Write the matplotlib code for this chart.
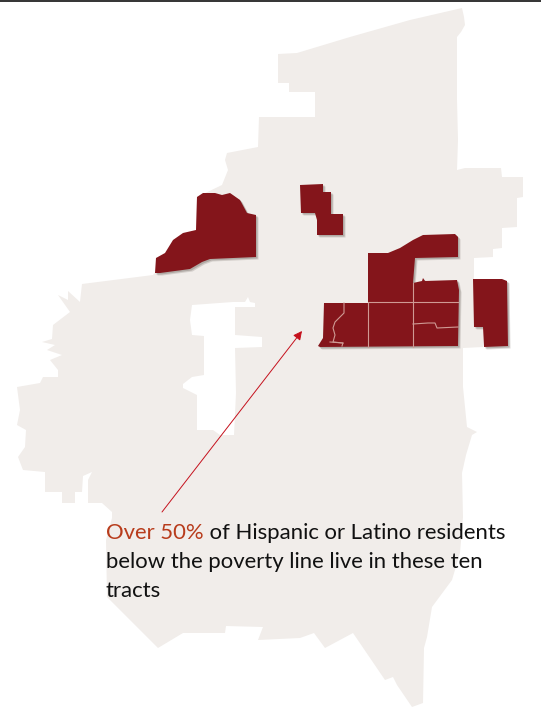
import numpy as np
import matplotlib
matplotlib.use('Agg')
import matplotlib.pyplot as plt
from matplotlib.patches import Polygon

county = [(278,54),(297,53),(350,37),(410,20),(462,8),(464,17),(465,25),(461,32),(457,37),(457,100),(458,140),(457,170),
          (465,168),(501,168),(502,177),(523,177),(523,197),(517,198),(517,227),(502,228),(502,248),(493,249),(493,257),
          (474,258),(474,278),(474,327),(483,328),(483,347),(463,348),(463,387),(467,427),(477,432),(472,435),(466,455),
          (462,473),(463,517),(460,553),(452,580),(432,607),(427,637),(424,648),(423,703),(412,707),(397,685),
          (393,677),(385,680),(353,633),(325,648),(314,633),(300,638),(258,640),(263,627),(226,626),(225,633),(183,633),
          (158,648),(137,627),(107,597),(106,540),(112,518),(112,512),(102,503),(88,503),(88,480),(92,472),(83,476),
          (82,492),(75,492),(75,503),(62,503),(62,492),(45,492),(45,472),(23,470),(18,457),(25,447),(26,430),(17,425),
          (20,410),(17,387),(40,383),(43,377),(58,377),(58,370),(50,360),(62,355),(47,350),(55,345),(42,342),(52,339),
          (53,325),(70,312),(58,295),(68,300),(68,291),(80,302),(82,284),(153,275),(196,230),(197,197),(222,185),
          (228,170),(225,160),(227,153),(258,147),(259,117),(315,117),(315,92),(289,92),(289,83),(278,83)]
hole = [(192,305),(233,302),(245,302),(248,297),(250,302),(255,303),(255,307),(235,307),(235,335),(262,337),(262,347),
        (235,348),(236,393),(234,435),(220,435),(213,430),(197,430),(197,395),(183,388),(183,384),(192,377),(204,375),
        (204,336),(192,335),(190,320)]

tract_nw = [(155,273),(156,258),(165,253),(173,240),(183,233),(196,230),(197,197),(203,193),(215,193),(222,195),(230,193),
            (240,200),(247,213),(256,215),(256,257),(210,259),(202,262),(190,269),(160,273)]
tract_n = [(300,185),(323,184),(323,192),(331,192),(331,214),(343,214),(343,235),(317,235),(317,220),(315,213),(301,213)]
tract_main = [(368,253),(388,253),(400,248),(413,240),(423,235),(455,234),(458,237),(458,257),(415,258),(413,283),(422,281),
              (423,278),(425,281),(457,280),(459,290),(458,346),(320,347),(318,346),(323,338),(324,303),(368,303)]
tract_e = [(473,279),(502,279),(507,281),(508,346),(484,347),(483,327),(474,327)]
tracts = [tract_nw, tract_n, tract_main, tract_e]

tract_lines = [[(368,302),(458,302)],
               [(368,303),(368,347)],
               [(413,283),(413,347)],
               [(413,324),(428,323),(435,323),(437,328),(458,327)],
               [(344,303),(344,313),(335,322),(333,328),(335,335),(333,342),(343,343),(342,346)],
               [(330,342),(343,343)]]

line_label = ['Over 50%', ' of Hispanic or Latino residents', 'below the poverty line live in these ten', 'tracts']

fig = plt.figure(figsize=(5.41, 7.08), dpi=100)
ax = fig.add_axes([0, 0, 1, 1])
ax.set_xlim(0, 541)
ax.set_ylim(708, 0)
ax.axis('off')

ax.add_patch(Polygon(county, closed=True, fc='#f1edea', ec='none'))
ax.add_patch(Polygon(hole, closed=True, fc='white', ec='none'))

for t in tracts:
    pts = np.array(t, dtype=float)
    ax.add_patch(Polygon(pts + [2.5, 2.5], closed=True, fc='#8f8782', ec='none', alpha=0.3))
    ax.add_patch(Polygon(pts + [1.5, 1.5], closed=True, fc='#8f8782', ec='none', alpha=0.5))
    ax.add_patch(Polygon(pts, closed=True, fc='#84151b', ec='none'))

for l in tract_lines:
    xs, ys = zip(*l)
    ax.plot(xs, ys, color='#cf9a94', lw=0.8)

# top rule of the page
ax.plot([0, 541], [0.5, 0.5], color='#333333', lw=1.4, solid_capstyle='butt')

ax.annotate('', xy=(302, 331), xytext=(162, 512),
            arrowprops=dict(arrowstyle='-|>', color='#c5101c', lw=0.7, mutation_scale=13, shrinkA=0, shrinkB=0))

fs = 15.9
t1 = ax.text(106, 539, line_label[0], fontsize=fs, family='Lato', color='#b83c1c', va='baseline')
fig.canvas.draw()
x_after = ax.transData.inverted().transform((t1.get_window_extent().x1, 0))[0]
ax.text(x_after, 539, line_label[1], fontsize=fs, family='Lato', color='#111111', va='baseline')
ax.text(106, 568, line_label[2], fontsize=fs, family='Lato', color='#111111', va='baseline')
ax.text(106, 597, line_label[3], fontsize=fs, family='Lato', color='#111111', va='baseline')

fig.savefig('out.png', dpi=100)
